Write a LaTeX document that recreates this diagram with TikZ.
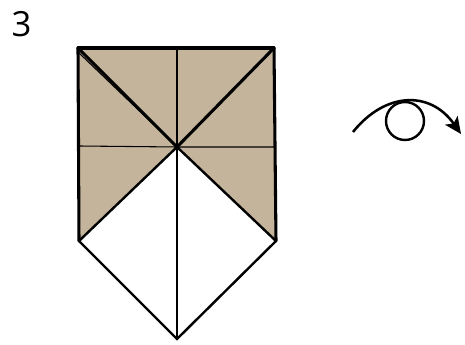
\documentclass[tikz,border=0pt]{standalone}
\usepackage{fontspec}
\setmainfont{Open Sans}
\usetikzlibrary{arrows.meta, positioning}
\definecolor{paperTan}{HTML}{C4B49C}
\tikzset{
  foldB/.style={black, line width=2.3pt, line cap=round},
  foldM/.style={black, line width=1.8pt, line cap=round},
  foldT/.style={black, line width=0.8pt},
  arrowE/.style={-{Stealth[length=4.4mm, width=4mm, inset=1mm]}, black, line width=1.9pt},
}
\begin{document}
\begin{tikzpicture}[x=0.75pt, y=-0.75pt]
        \useasboundingbox (0,0) rectangle (465,345);
        \coordinate (tl) at (78,48); \coordinate (tr) at (274,48);
        \coordinate (tm) at (177,48); \coordinate (c) at (177,147);
        \coordinate (lm) at (79,146); \coordinate (rm) at (274,147);
        \coordinate (lb) at (79,241); \coordinate (rb) at (276,241);
        \coordinate (b) at (177,339); \coordinate (tx) at (78,52);
        \fill[paperTan] (tl) -- (tr) -- (rb) -- (c) -- (lb) -- cycle;
        \draw[foldT] (tm) -- (b);
        \draw[foldT] (lm) -- (c) -- (rm);
        \draw[foldB] (tl) -- (tr);
        \draw[foldB] (tl) -- (lb); \draw[foldB] (tr) -- (rb);
        \draw[foldB] (tl) -- (c); \draw[foldB] (tr) -- (c);
        \draw[foldT] (tx) -- (c);
        \draw[foldM] (lb) -- (c) -- (rb);
        \draw[foldM] (lb) -- (b) -- (rb);
        % eye
        \node[draw, circle, line width=1.8pt, inner sep=0pt, minimum size=28.5pt] (eye) at (405,121) {};
        \coordinate (e1) at (353,132); \coordinate (e2) at (461,134);
        \draw[arrowE] (e1) .. controls (385,92) and (430,90) .. (e2);
        \node[font=\fontsize{26}{26}\selectfont, inner sep=0pt] (num) at (21.5,24) {3};
      \end{tikzpicture}
\end{document}
